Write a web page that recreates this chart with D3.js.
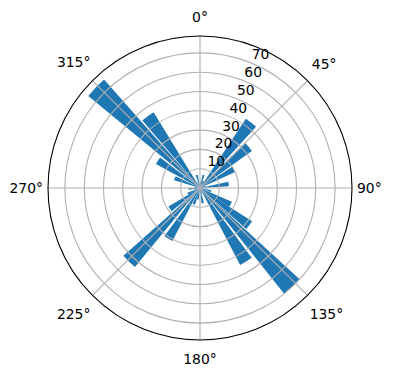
<!DOCTYPE html>
<html>
<head>
<meta charset="utf-8">
<script src="https://cdn.jsdelivr.net/npm/d3@7"></script>
<style>
  body { margin: 0; background: #ffffff; }
  svg { display: block; }
  text { font-family: "DejaVu Sans", sans-serif; }
</style>
</head>
<body>
<div class="polarchart"></div>
<script>
"use strict";

// bar directions (degrees, clockwise from north) and heights
var barAngles = [4, 15, 27, 38, 50, 61, 71, 82,
                 94, 106, 118, 127, 137, 148, 159, 170,
                 181, 191, 201, 212, 224, 235, 245, 256, 266,
                 280, 291, 303, 314, 324, 335, 346, 355];
var barValues = [3, 7, 4, 43, 33, 20, 3, 15,
                 2, 6, 18, 32, 70, 45, 3, 8,
                 2, 6, 9, 31, 53, 19, 7, 3, 6,
                 3, 14, 26, 75, 46, 3, 7, 2];
var barWidthDeg = 9;

var radialTicks = [10, 20, 30, 40, 50, 60, 70];
var thetaTicks = [0, 45, 90, 135, 180, 225, 270, 315];
var rMax = 78.75;

renderPolarBars();

function renderPolarBars() {
    var width = 396;
    var height = 380;
    var cx = 200, cy = 188, R = 152;

    var barColor = "#1f77b4";
    var gridColor = "#b0b0b0";
    var fontSize = 13.9;

    var r = d3.scaleLinear().domain([0, rMax]).range([0, R]);
    var a = d3.scaleLinear().domain([0, 360]).range([0, 2 * Math.PI]);

    var svg = d3.select(".polarchart").append("svg")
        .attr("width", width)
        .attr("height", height);

    var g = svg.append("g")
        .attr("transform", "translate(" + cx + "," + cy + ")");

    // bars
    var arc = d3.arc()
        .innerRadius(0)
        .outerRadius(function (d) { return r(d.v); })
        .startAngle(function (d) { return a(d.t - barWidthDeg / 2); })
        .endAngle(function (d) { return a(d.t + barWidthDeg / 2); });

    var bars = barAngles.map(function (t, i) { return { t: t, v: barValues[i] }; });

    g.selectAll("path.bar")
        .data(bars)
        .enter().append("path")
        .attr("class", "bar")
        .attr("d", arc)
        .style("fill", barColor);

    // radial grid circles
    g.selectAll("circle.ring")
        .data(radialTicks)
        .enter().append("circle")
        .attr("class", "ring")
        .attr("r", function (d) { return r(d); })
        .style("fill", "none")
        .style("stroke", gridColor)
        .style("stroke-width", 1.1);

    // angular grid lines
    g.selectAll("line.spoke")
        .data(thetaTicks)
        .enter().append("line")
        .attr("class", "spoke")
        .attr("x1", 0).attr("y1", 0)
        .attr("x2", function (d) { return r(rMax) * Math.sin(a(d)); })
        .attr("y2", function (d) { return -r(rMax) * Math.cos(a(d)); })
        .style("stroke", gridColor)
        .style("stroke-width", 1.1);

    // outer frame
    g.append("circle")
        .attr("r", r(rMax))
        .style("fill", "none")
        .style("stroke", "#000000")
        .style("stroke-width", 1.1);

    // radial tick labels at 22.5 degrees
    var labelAngle = a(22.5);
    g.selectAll("text.rlabel")
        .data(radialTicks)
        .enter().append("text")
        .attr("class", "rlabel")
        .attr("x", function (d) { return r(d) * Math.sin(labelAngle); })
        .attr("y", function (d) { return -r(d) * Math.cos(labelAngle) - 4; })
        .attr("text-anchor", "start")
        .style("font-size", fontSize + "px")
        .style("fill", "#000000")
        .text(function (d) { return d; });

    // angle labels outside the frame
    g.selectAll("text.tlabel")
        .data(thetaTicks)
        .enter().append("text")
        .attr("class", "tlabel")
        .attr("text-anchor", "middle")
        .attr("dominant-baseline", "central")
        .style("font-size", fontSize + "px")
        .style("fill", "#000000")
        .text(function (d) { return d + "°"; })
        .each(function (d) {
            var el = d3.select(this);
            var w = this.getComputedTextLength();
            var s = Math.sin(a(d)), c = Math.cos(a(d));
            var rho = R + 5 + 0.5 * Math.abs(s) * w + 0.5 * Math.abs(c) * 28;
            el.attr("x", rho * s).attr("y", -rho * c);
        });
}
</script>
</body>
</html>
